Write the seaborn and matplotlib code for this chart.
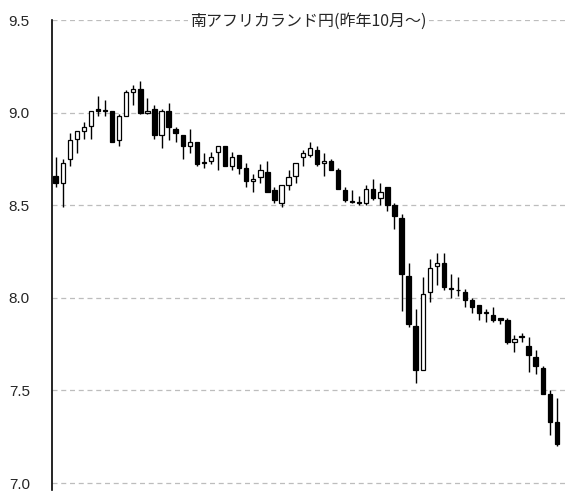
# -*- coding: utf-8 -*-
"""
南アフリカランド円 日足ローソク足（昨年10月～）
"""

import numpy as np
import pandas as pd
import matplotlib
matplotlib.use('Agg')
import matplotlib.pyplot as plt
import seaborn as sns

sns.set_style('white')
plt.rcParams['font.family'] = ['Liberation Sans', 'Noto Sans CJK JP', 'DejaVu Sans']

# ===== データ（チャートから読み取り） =====
opens = [8.66, 8.62, 8.75, 8.86, 8.90, 8.93, 9.02, 9.01, 9.01, 8.85,
         8.98, 9.11, 9.13, 9.00, 9.02, 8.88, 9.01, 8.91, 8.88, 8.82,
         8.84, 8.73, 8.74, 8.79, 8.82, 8.71, 8.77, 8.70, 8.63, 8.65,
         8.68, 8.58, 8.51, 8.61, 8.66, 8.76, 8.77, 8.80, 8.73, 8.74,
         8.69, 8.58, 8.525, 8.52, 8.51, 8.59, 8.54, 8.60, 8.50, 8.43,
         8.12, 7.85, 7.61, 8.03, 8.17, 8.19, 8.055, 8.04, 8.03, 7.99,
         7.96, 7.92, 7.91, 7.89, 7.88, 7.76, 7.795, 7.74, 7.68, 7.62,
         7.48, 7.33]
highs = [8.76, 8.75, 8.89, 8.90, 8.95, 9.01, 9.09, 9.07, 9.01, 8.99,
         9.12, 9.15, 9.17, 9.08, 9.04, 9.02, 9.05, 8.92, 8.88, 8.91,
         8.84, 8.78, 8.79, 8.82, 8.82, 8.79, 8.77, 8.73, 8.67, 8.72,
         8.74, 8.60, 8.61, 8.69, 8.73, 8.80, 8.84, 8.82, 8.78, 8.75,
         8.70, 8.60, 8.58, 8.55, 8.61, 8.64, 8.62, 8.60, 8.51, 8.45,
         8.19, 7.94, 8.11, 8.21, 8.24, 8.24, 8.13, 8.11, 8.05, 8.00,
         7.96, 7.94, 7.95, 7.89, 7.89, 7.80, 7.81, 7.79, 7.72, 7.63,
         7.50, 7.46]
lows = [8.60, 8.49, 8.71, 8.78, 8.86, 8.86, 8.98, 8.98, 8.84, 8.82,
        8.98, 9.04, 8.99, 8.99, 8.86, 8.81, 8.85, 8.84, 8.75, 8.78,
        8.71, 8.70, 8.72, 8.69, 8.71, 8.69, 8.67, 8.60, 8.57, 8.62,
        8.57, 8.51, 8.49, 8.58, 8.62, 8.71, 8.76, 8.71, 8.66, 8.69,
        8.59, 8.52, 8.51, 8.50, 8.50, 8.53, 8.50, 8.47, 8.37, 7.93,
        7.84, 7.54, 7.61, 7.98, 8.07, 8.04, 8.00, 8.01, 7.95, 7.92,
        7.88, 7.87, 7.87, 7.86, 7.75, 7.71, 7.76, 7.60, 7.59, 7.48,
        7.26, 7.20]
closes = [8.62, 8.73, 8.85, 8.90, 8.92, 9.01, 9.01, 9.015, 8.84, 8.98,
          9.11, 9.13, 9.00, 9.01, 8.88, 9.01, 8.92, 8.89, 8.82, 8.84,
          8.72, 8.73, 8.76, 8.82, 8.71, 8.76, 8.70, 8.63, 8.64, 8.69,
          8.57, 8.53, 8.61, 8.65, 8.73, 8.78, 8.81, 8.72, 8.74, 8.69,
          8.59, 8.53, 8.515, 8.51, 8.59, 8.54, 8.57, 8.50, 8.44, 8.13,
          7.86, 7.61, 8.02, 8.16, 8.19, 8.06, 8.05, 8.04, 7.99, 7.95,
          7.92, 7.92, 7.88, 7.88, 7.76, 7.78, 7.79, 7.69, 7.63, 7.48,
          7.33, 7.21]

yticks = [7.0, 7.5, 8.0, 8.5, 9.0, 9.5]
title = '南アフリカランド円(昨年10月～)'

df = pd.DataFrame({'open': opens, 'high': highs, 'low': lows, 'close': closes})
df['idx'] = np.arange(len(df))
df['up'] = df['close'] >= df['open']
df['body_low'] = df[['open', 'close']].min(axis=1)
df['body_h'] = (df['close'] - df['open']).abs().clip(lower=0.004)

# ===== 描画 =====
fig = plt.figure(figsize=(5.67, 5.03), dpi=100)
ax = fig.add_axes([0.0917, 0.0249, 0.9053, 0.9353])

# ヒゲ
ax.vlines(df['idx'], df['low'], df['high'], color='black', linewidth=1.0, zorder=2)
# 実体（陽線=白、陰線=黒）
face = np.where(df['up'], 'white', 'black')
ax.bar(df['idx'], df['body_h'], bottom=df['body_low'], width=0.62,
       color=face, edgecolor='black', linewidth=0.9, zorder=3)

ax.set_xlim(-0.52, 72.2)
ax.set_ylim(6.96, 9.5)
ax.set_yticks(yticks)
ax.set_yticklabels([f'{v:.1f}' for v in yticks], fontsize=11)
ax.set_xticks([])
ax.yaxis.grid(True, color='#bdbdbd', linestyle=(0, (4, 3)), linewidth=0.9)
ax.set_axisbelow(True)
ax.tick_params(axis='y', direction='in', length=3, width=1, color='black', pad=16)

for side in ['top', 'right', 'bottom']:
    ax.spines[side].set_visible(False)
ax.spines['left'].set_color('black')
ax.spines['left'].set_linewidth(1.2)

ax.text(0.5, 0.997, title, transform=ax.transAxes, ha='center', va='center',
        fontsize=11.5, family=['Noto Sans CJK JP', 'DejaVu Sans'],
        bbox=dict(facecolor='white', edgecolor='none', pad=1.5), zorder=5)

plt.savefig('out.png', dpi=100)
plt.close()
